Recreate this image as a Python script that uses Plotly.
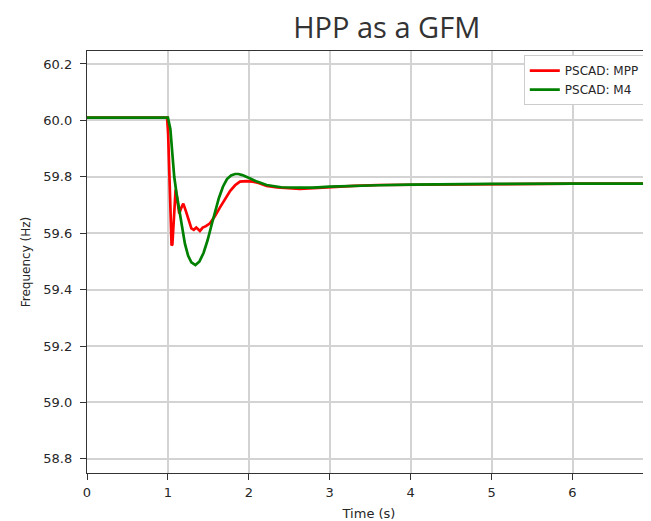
import plotly.graph_objects as go

# PSCAD: MPP (red)
t_mpp = [0, 0.99, 1.003, 1.02, 1.033, 1.045, 1.055, 1.066, 1.08, 1.095, 1.11, 1.125, 1.14, 1.165,
         1.19, 1.22, 1.25, 1.29, 1.32, 1.35, 1.38, 1.395, 1.43, 1.47, 1.52, 1.58, 1.64, 1.7, 1.77,
         1.83, 1.89, 1.97, 2.05, 2.12, 2.22, 2.35, 2.5, 2.63, 2.8, 3.0, 3.3, 3.6, 4.0, 4.5, 5.0, 6.0, 7.0]
f_mpp = [60.01, 60.01, 59.95, 59.80, 59.70, 59.557, 59.56, 59.62, 59.70, 59.755, 59.73, 59.69, 59.67, 59.69,
         59.705, 59.68, 59.655, 59.617, 59.612, 59.62, 59.612, 59.608, 59.62, 59.625, 59.635, 59.66, 59.69, 59.72, 59.75,
         59.77, 59.783, 59.785, 59.783, 59.778, 59.768, 59.762, 59.758, 59.757, 59.76, 59.764, 59.768, 59.771, 59.772, 59.774, 59.775, 59.776, 59.776]

# PSCAD: M4 (green)
t_m4 = [0, 1.0, 1.03, 1.055, 1.078, 1.107, 1.14, 1.175, 1.21, 1.25, 1.29, 1.34, 1.39, 1.44, 1.49,
        1.54, 1.58, 1.63, 1.68, 1.73, 1.78, 1.83, 1.87, 1.92, 2.01, 2.1, 2.22, 2.4, 2.63, 2.8,
        3.0, 3.3, 3.6, 4.0, 4.5, 5.0, 6.0, 7.0]
f_m4 = [60.01, 60.01, 59.97, 59.88, 59.80, 59.74, 59.68, 59.62, 59.563, 59.52, 59.497, 59.487, 59.50, 59.53, 59.575,
        59.63, 59.675, 59.725, 59.765, 59.792, 59.805, 59.81, 59.81, 59.806, 59.795, 59.783, 59.771, 59.763, 59.762, 59.762,
        59.765, 59.768, 59.770, 59.772, 59.774, 59.775, 59.776, 59.776]

x_ticks = [0, 1, 2, 3, 4, 5, 6]
y_ticks = [58.8, 59.0, 59.2, 59.4, 59.6, 59.8, 60.0, 60.2]

fig = go.Figure()
fig.add_trace(go.Scatter(x=t_mpp, y=f_mpp, mode="lines", name="PSCAD: MPP",
                         line=dict(color="#ff0000", width=2.7)))
fig.add_trace(go.Scatter(x=t_m4, y=f_m4, mode="lines", name="PSCAD: M4",
                         line=dict(color="#008000", width=2.7)))

axis_font = dict(family="DejaVu Sans", size=13, color="#262626")
fig.update_layout(
    width=643, height=513,
    margin=dict(l=79, r=0, t=43, b=48, autoexpand=False),
    paper_bgcolor="white", plot_bgcolor="white",
    title=dict(text="HPP as a GFM", x=0.589, xanchor="center", xref="container",
               y=0.961, yanchor="middle", yref="container",
               font=dict(family="Open Sans", size=29, color="#333333")),
    showlegend=True,
    legend=dict(x=0.989, y=0.99, xanchor="right", yanchor="top",
                bgcolor="white", bordercolor="#cccccc", borderwidth=1,
                font=dict(family="DejaVu Sans", size=12, color="#262626"),
                tracegroupgap=0, itemwidth=30),
    xaxis=dict(range=[0, 6.97], tickvals=x_ticks, ticktext=[str(v) for v in x_ticks],
               showgrid=True, gridcolor="#d3d3d3", gridwidth=1.5,
               showline=True, linecolor="#333333", linewidth=1.3, mirror=True,
               ticks="outside", ticklen=6, tickcolor="#333333",
               tickfont=axis_font, zeroline=False, ticklabelstandoff=1,
               title=dict(text="Time (s)", font=dict(family="DejaVu Sans", size=13, color="#262626"), standoff=10)),
    yaxis=dict(range=[58.75, 60.246], tickvals=y_ticks, ticktext=[f"{v:.1f}" for v in y_ticks],
               showgrid=True, gridcolor="#d3d3d3", gridwidth=1.5,
               showline=True, linecolor="#333333", linewidth=1.3,
               ticks="outside", ticklen=6, tickcolor="#333333",
               tickfont=axis_font, zeroline=False, ticklabelstandoff=5,
               title=dict(text="Frequency (Hz)", font=dict(family="DejaVu Sans", size=12, color="#262626"), standoff=10)),
)

fig.write_html("out.html")
